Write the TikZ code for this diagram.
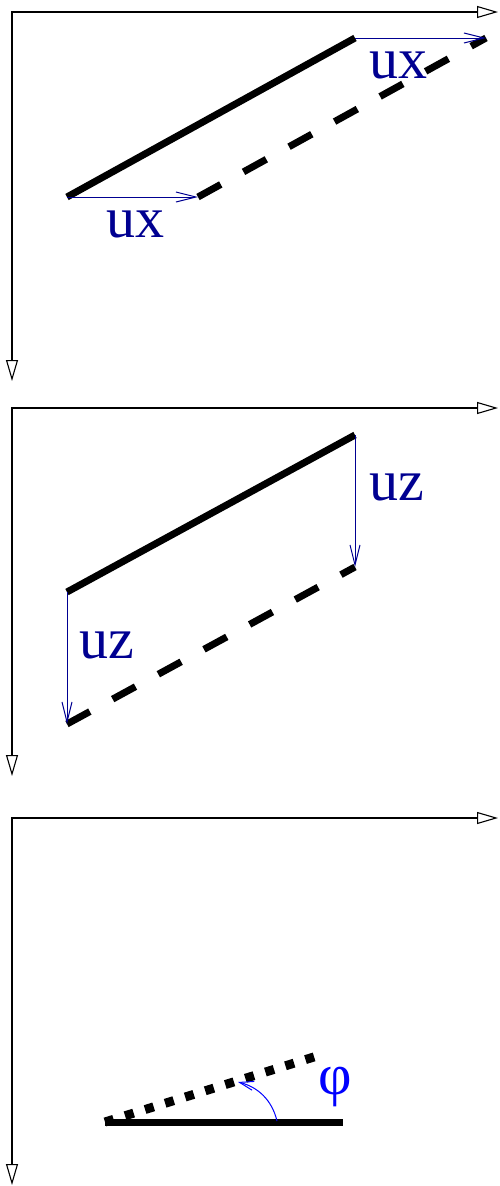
\documentclass[tikz,border=0pt]{standalone}
\usepackage{fontspec}
\setmainfont{Liberation Serif}
\usetikzlibrary{arrows.meta}
\definecolor{navy}{RGB}{0,0,145}
\definecolor{phiblue}{RGB}{0,0,255}
\begin{document}
\begin{tikzpicture}[x=1pt,y=-1pt,
 axisb/.style={line width=1.1pt, {Triangle[open,length=21pt,width=12pt]}-{Triangle[open,length=21pt,width=12pt]}},
 beam/.style={line width=7pt},
 beamdash/.style={line width=7pt, dash pattern=on 26pt off 26pt},
 beamdot/.style={line width=9pt, dash pattern=on 9pt off 12pt},
 disp/.style={navy, line width=1pt, -{Straight Barb[length=20pt,width=10pt]}},
 lbl/.style={text=navy, font=\fontsize{58}{60}\selectfont, inner sep=0pt, anchor=base},
]
\useasboundingbox (0,0) rectangle (499,1186);
% ---------- panel 1 ----------
\coordinate (o1) at (12,12);
\coordinate (x1) at (498,12);
\coordinate (y1) at (12,381);
\draw[axisb] (x1) -- (o1) -- (y1);
\coordinate (a1) at (67,197);
\coordinate (b1) at (355,38);
\coordinate (c1) at (198,197);
\coordinate (d1) at (486,38);
\draw[beam] (a1) -- (b1);
\draw[beamdash] (c1) -- (d1);
\draw[disp] (a1) -- (c1);
\draw[disp] (b1) -- (d1);
\node[lbl] (ux1) at (135,237) {ux};
\node[lbl] (ux2) at (398,78) {ux};
% ---------- panel 2 ----------
\coordinate (o2) at (12,408);
\coordinate (x2) at (498,408);
\coordinate (y2) at (12,776);
\draw[axisb] (x2) -- (o2) -- (y2);
\coordinate (a2) at (67,592);
\coordinate (b2) at (355,435);
\coordinate (c2) at (67,724);
\coordinate (d2) at (355,567);
\draw[beam] (a2) -- (b2);
\draw[beamdash] (c2) -- (d2);
\draw[disp] (a2) -- (c2);
\draw[disp] (b2) -- (d2);
\node[lbl] (uz1) at (107,658) {uz};
\node[lbl] (uz2) at (397,500) {uz};
% ---------- panel 3 ----------
\coordinate (o3) at (12,818);
\coordinate (x3) at (498,818);
\coordinate (y3) at (12,1185);
\draw[axisb] (x3) -- (o3) -- (y3);
\coordinate (a3) at (105,1122);
\coordinate (b3) at (343,1122);
\coordinate (d3) at (317,1056);
\draw[beam] (a3) -- (b3);
\draw[beamdot] (a3) -- (d3);
\coordinate (r0) at (277,1121);
\coordinate (r1) at (238,1082);
\draw[phiblue, line width=1pt, -{Straight Barb[length=14pt,width=9pt]}] (r0) .. controls (272,1100) and (258,1087) .. (r1);
\node[text=phiblue, font=\fontsize{58}{60}\selectfont, inner sep=0pt] (phi) at (335,1087) {φ};
\end{tikzpicture}
\end{document}
